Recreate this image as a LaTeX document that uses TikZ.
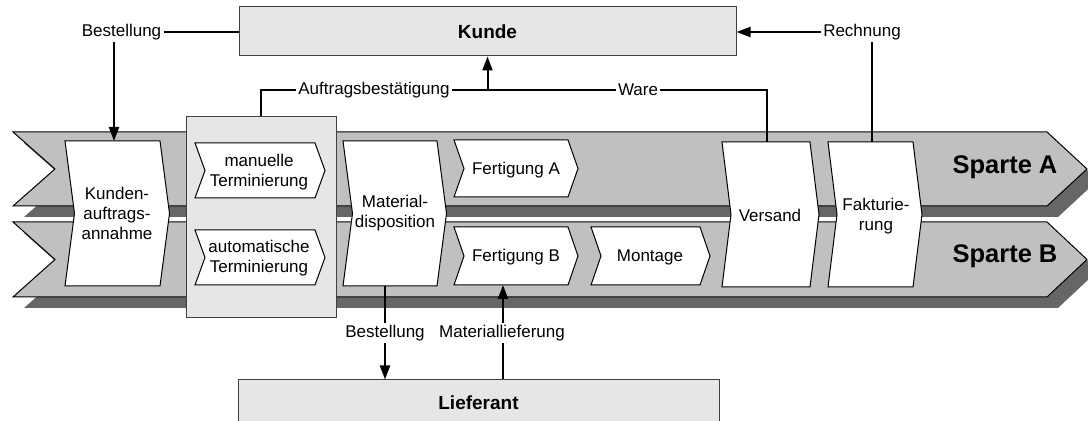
\documentclass[tikz,border=0pt]{standalone}
\usepackage{fontspec}
\setmainfont{Liberation Sans}
\usetikzlibrary{arrows.meta}
\definecolor{bandgray}{HTML}{C0C0C0}
\definecolor{shadowgray}{HTML}{666666}
\definecolor{boxgray}{HTML}{E6E6E6}
\begin{document}
\begin{tikzpicture}
  [x=0.5pt,y=-0.5pt,
   every node/.style={font=\fontsize{8.5}{10}\selectfont,inner sep=1pt,align=center},
   band/.style={draw=black,line width=0.5pt,fill=bandgray},
   shade/.style={fill=shadowgray},
   proc/.style={draw=black,line width=0.5pt,fill=white},
   ext/.style={draw=black!75,line width=0.5pt,fill=boxgray,font=\fontsize{9.5}{11}\selectfont\bfseries},
   flow/.style={line width=1pt,-{Triangle[length=7pt,width=5pt]}},
   link/.style={line width=1pt},
   sparte/.style={font=\fontsize{12.75}{15}\selectfont\bfseries}]

  \useasboundingbox (0,0) rectangle (1088,421);

  % Sparten A und B
  \foreach \t/\b in {132/206,222/297} {
    \fill[shade,shift={(11,11)}] (13,\t) -- (1047,\t) -- (1087,{(\t+\b)/2}) -- (1047,\b) -- (13,\b) -- (55,{(\t+\b)/2}) -- cycle;
    \draw[band] (13,\t) -- (1047,\t) -- (1087,{(\t+\b)/2}) -- (1047,\b) -- (13,\b) -- (55,{(\t+\b)/2}) -- cycle;
  }
  \node[sparte] (spa) at (1005,167) {Sparte A};
  \node[sparte] (spb) at (1005,256) {Sparte B};

  \node[ext,minimum width=75pt,minimum height=100.5pt] (term) at (261,217.5) {};

  % Funktionen
  \foreach \l/\t/\r/\b/\d in {65/141/160/286/9.5,343/141/437/286/9.5,722/142/810/287/9,828/142/913/287/9,
                              195/143/315/198/10,195/230/315/285/10,454/140/568/197/10,454/227/568/285/10,591/227/700/285/10}
    \draw[proc] (\l,\t) -- (\r,\t) -- (\r+\d,{(\t+\b)/2}) -- (\r,\b) -- (\l,\b) -- (\l+\d,{(\t+\b)/2}) -- cycle;

  \node (kaa) at (117,213) {Kunden-\\auftrags-\\annahme};
  \node (md)  at (395,213) {Material-\\disposition};
  \node (vs)  at (770,215) {Versand};
  \node (fak) at (876,216) {Fakturie-\\rung};
  \node (mt)  at (259,172) {manuelle\\Terminierung};
  \node (at)  at (259,258) {automatische\\Terminierung};
  \node (fa)  at (516,170) {Fertigung A};
  \node (fb)  at (516,257) {Fertigung B};
  \node (mo)  at (650,257) {Montage};

  \coordinate (kaa-n) at (114,141);
  \coordinate (vs-n)  at (767,142);
  \coordinate (fak-n) at (872,142);
  \coordinate (md-s)  at (385,286);
  \coordinate (fb-s)  at (503,285);

  % Partner
  \node[ext,minimum width=248.5pt,minimum height=24.5pt] (kunde) at (487.5,31.5) {Kunde};
  \node[ext,minimum width=240.5pt,minimum height=23pt] (lief) at (478.5,403) {Lieferant};

  % Informations- und Materialfluss
  \node (best)  at (121.5,32) {Bestellung};
  \node (ab)    at (374,90)   {Auftragsbestätigung};
  \node (ware)  at (638,90)   {Ware};
  \node (re)    at (862,32)   {Rechnung};
  \node (best2) at (385,333)  {Bestellung};
  \node (ml)    at (502,333)  {Materiallieferung};

  \draw[link] (best) -- (best -| kunde.west);
  \draw[flow] (best.south -| kaa-n) -- (kaa-n);
  \draw[link] (ab.west) -| (term.north);
  \draw[link] (ab) -- (ware);
  \draw[flow] (kunde.south |- ab) -- (kunde.south);
  \draw[link] (ware.east) -| (vs-n);
  \draw[flow] (re) -- (re -| kunde.east);
  \draw[link] (fak-n) -- (fak-n |- re.south);
  \draw[link] (md-s) -- (md-s |- best2.north);
  \draw[flow] (best2) -- (best2 |- lief.north);
  \draw[link] (fb-s |- lief.north) -- (fb-s |- ml.south);
  \draw[flow] (fb-s |- ml.north) -- (fb-s);

\end{tikzpicture}
\end{document}
